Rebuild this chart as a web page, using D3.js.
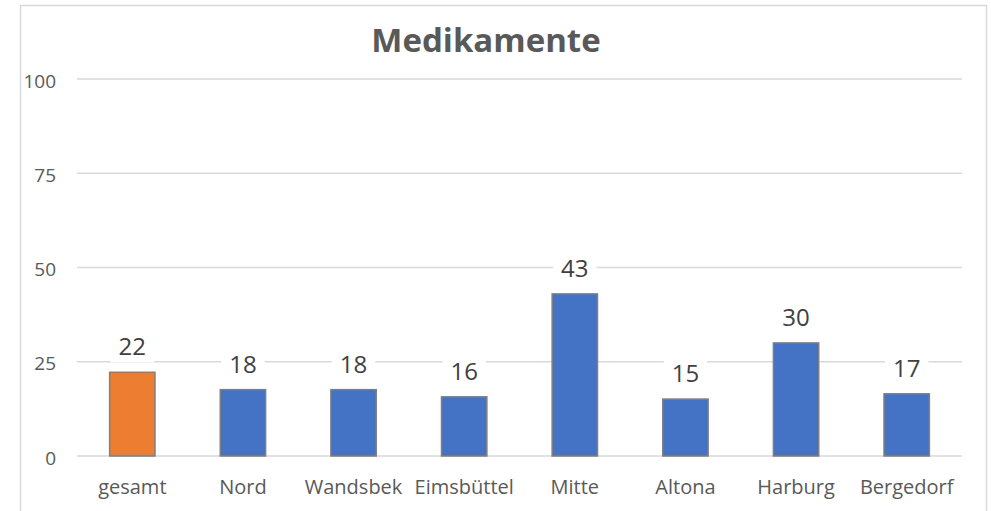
<!DOCTYPE html>
<html><head><meta charset="utf-8">
<script src="https://cdn.jsdelivr.net/npm/d3@7"></script>
<style>html,body{margin:0;padding:0;background:#fff;}svg{display:block;}</style>
</head><body>
<script>
const title = "Medikamente";
const categories = ["gesamt","Nord","Wandsbek","Eimsbüttel","Mitte","Altona","Harburg","Bergedorf"];
const values = [22.2, 17.6, 17.6, 15.7, 43.0, 15.1, 30.0, 16.5];
const tickValues = [0, 25, 50, 75, 100];
const colors = ["#ED7D31","#4472C4","#4472C4","#4472C4","#4472C4","#4472C4","#4472C4","#4472C4"];

const W = 991, H = 511;
const svg = d3.select("body").append("svg").attr("width", W).attr("height", H);
svg.append("rect").attr("x",20.5).attr("y",5.5).attr("width",966).attr("height",510)
  .attr("fill","#fff").attr("stroke","#d9d9d9").attr("stroke-width",1.5);

const x = d3.scaleBand().domain(categories).range([77, 962]).paddingInner(0.59).paddingOuter(0.295);
const y = d3.scaleLinear().domain([0,100]).range([456, 79]);

const font = "'Open Sans', sans-serif";
// gridlines
svg.append("g").selectAll("line").data(tickValues).join("line")
  .attr("x1",77).attr("x2",962).attr("y1",d=>y(d)).attr("y2",d=>y(d))
  .attr("stroke","#d9d9d9").attr("stroke-width",1.5);

// y axis labels
const yAxis = d3.axisLeft(y).tickValues(tickValues).tickSize(0).tickPadding(0);
const gy = svg.append("g").attr("transform","translate(56,2)").call(yAxis);
gy.select(".domain").remove();
gy.selectAll("text").attr("font-family",font).attr("font-size",19).attr("fill","#595959");

// x axis labels
const xAxis = d3.axisBottom(x).tickSize(0).tickPadding(0);
const gx = svg.append("g").attr("transform","translate(0,480)").call(xAxis);
gx.select(".domain").remove();
gx.selectAll("text").attr("font-family",font).attr("font-size",20).attr("fill","#595959");

// bars
svg.append("g").selectAll("rect").data(values).join("rect")
  .attr("x",(d,i)=>x(categories[i])).attr("width",x.bandwidth())
  .attr("y",d=>y(d)).attr("height",d=>y(0)-y(d))
  .attr("fill",(d,i)=>colors[i]).attr("stroke","#7f7f7f").attr("stroke-width",1.5);

// data labels with knockout
const fmt = d3.format(".0f");
const lg = svg.append("g").selectAll("g").data(values).join("g");
lg.each(function(d,i){
  const g = d3.select(this);
  const cx = x(categories[i]) + x.bandwidth()/2;
  const t = g.append("text").attr("x",cx).attr("y",y(d)-17).attr("text-anchor","middle")
    .attr("font-family",font).attr("font-size",24).attr("fill","#404040").text(fmt(d));
  const bb = t.node().getBBox();
  g.insert("rect","text").attr("x",bb.x-8).attr("y",bb.y).attr("width",bb.width+16).attr("height",bb.height).attr("fill","#fff");
});

// title
svg.append("text").attr("x",486).attr("y",52).attr("text-anchor","middle")
  .attr("font-family",font).attr("font-weight","bold").attr("font-size",33).attr("fill","#595959").text(title);
</script>
</body></html>
